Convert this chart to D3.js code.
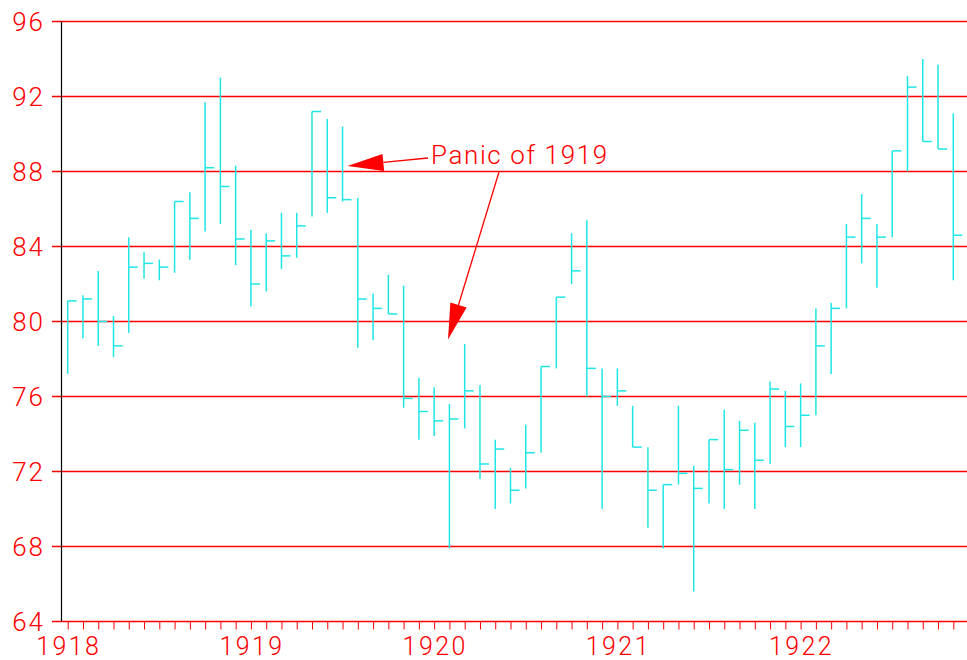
<!DOCTYPE html>
<html>
<head>
<meta charset="utf-8">
<script src="https://cdn.jsdelivr.net/npm/d3@7"></script>
<style>
  html, body { margin: 0; padding: 0; background: #fff; }
  svg { display: block; }
  text { font-family: Roboto, 'DejaVu Sans', sans-serif; font-weight: 300; fill: #f00; }
</style>
</head>
<body>
<div id="chart"></div>
<script>
// monthly bars, Jan 1918 .. Nov 1922
const years = [1918, 1919, 1920, 1921, 1922]
const yTicks = [64, 68, 72, 76, 80, 84, 88, 92, 96]
const highs = [
  81.1, 81.4, 82.7, 80.3, 84.5, 83.7, 83.3, 86.4, 86.9, 91.7, 93.0, 88.3,
  84.9, 84.7, 85.8, 85.8, 91.2, 90.8, 90.4, 86.6, 81.5, 82.5, 81.9, 77.0,
  76.5, 75.6, 78.8, 76.6, 73.7, 72.2, 74.5, 77.6, 81.3, 84.7, 85.4, 77.5,
  77.5, 75.5, 73.3, 71.3, 75.5, 72.3, 73.7, 75.3, 74.7, 74.6, 76.8, 76.3,
  76.7, 80.7, 81.0, 85.2, 86.8, 85.2, 89.1, 93.1, 94.0, 93.7, 91.1
]
const lows = [
  77.2, 79.1, 78.7, 78.1, 79.4, 82.3, 82.2, 82.6, 83.3, 84.8, 85.2, 83.0,
  80.8, 81.6, 82.8, 83.4, 85.6, 85.8, 86.4, 78.6, 79.0, 80.4, 75.4, 73.7,
  73.9, 67.9, 74.3, 71.6, 70.0, 70.3, 71.1, 73.0, 77.5, 82.0, 76.0, 70.0,
  75.5, 73.3, 69.0, 67.9, 71.3, 65.6, 70.3, 70.0, 71.3, 70.0, 72.4, 73.3,
  73.3, 75.0, 77.2, 80.7, 83.1, 81.8, 84.5, 88.0, 89.6, 89.2, 82.2
]
const closes = [
  81.1, 81.2, 80.0, 78.7, 82.9, 83.1, 82.9, 86.4, 85.5, 88.2, 87.2, 84.4,
  82.0, 84.3, 83.5, 85.1, 91.2, 86.6, 86.5, 81.2, 80.7, 80.4, 75.9, 75.2,
  74.7, 74.8, 76.3, 72.4, 73.2, 71.0, 73.0, 77.6, 81.3, 82.7, 77.5, 76.0,
  76.3, 73.3, 71.0, 71.3, 71.9, 71.1, 73.7, 72.1, 74.2, 72.6, 76.4, 74.4,
  75.0, 78.7, 80.7, 84.5, 85.5, 84.5, 89.1, 92.5, 89.6, 89.2, 84.6
]

const width = 967
const height = 660
const red = '#f00'
const cyan = '#1fe6e6'

const svg = d3.select('#chart').append('svg')
  .attr('width', width)
  .attr('height', height)

const x = d3.scaleLinear().domain([0, highs.length - 1]).range([67.7, 953.3])
const y = d3.scaleLinear().domain([64, 96]).range([621.5, 21.5])

// horizontal grid / y ticks
svg.append('g')
  .selectAll('line')
  .data(yTicks)
  .enter()
  .append('line')
  .attr('x1', 52)
  .attr('x2', width)
  .attr('y1', d => y(d))
  .attr('y2', d => y(d))
  .attr('stroke', red)
  .attr('stroke-width', 1.3)

svg.append('g')
  .selectAll('text')
  .data(yTicks)
  .enter()
  .append('text')
  .text(d => d)
  .attr('x', 45)
  .attr('y', d => y(d) + 9)
  .attr('text-anchor', 'end')
  .attr('style', 'font-size:26px;letter-spacing:2px;')

// x axis month ticks
const xAxis = d3.axisBottom(x)
  .tickValues(d3.range(highs.length))
  .tickSize(8)
  .tickFormat('')
const xAxisG = svg.append('g')
  .attr('transform', `translate(0,${y(64)})`)
  .call(xAxis)
xAxisG.select('.domain').remove()
xAxisG.selectAll('line').attr('stroke', red)

svg.append('g')
  .selectAll('text')
  .data(years)
  .enter()
  .append('text')
  .text(d => d)
  .attr('x', (d, i) => x(i * 12) + 1)
  .attr('y', 655)
  .attr('text-anchor', 'middle')
  .attr('style', 'font-size:25px;letter-spacing:2.4px;')

// left axis line
svg.append('line')
  .attr('x1', 61.5)
  .attr('x2', 61.5)
  .attr('y1', y(96))
  .attr('y2', y(64))
  .attr('stroke', '#000')
  .attr('stroke-width', 1.2)

// high-low-close bars
const bars = svg.append('g')
  .attr('stroke', cyan)
  .attr('stroke-width', 1.5)
const idx = d3.range(highs.length)
bars.selectAll('.hl')
  .data(idx)
  .enter()
  .append('line')
  .attr('class', 'hl')
  .attr('x1', i => x(i))
  .attr('x2', i => x(i))
  .attr('y1', i => y(highs[i]))
  .attr('y2', i => y(lows[i]))
bars.selectAll('.cl')
  .data(idx)
  .enter()
  .append('line')
  .attr('class', 'cl')
  .attr('x1', i => x(i))
  .attr('x2', i => x(i) + 9)
  .attr('y1', i => y(closes[i]))
  .attr('y2', i => y(closes[i]))

// annotation
svg.append('text')
  .text('Panic of 1919')
  .attr('x', 431)
  .attr('y', 164)
  .attr('style', 'font-size:26px;letter-spacing:1.6px;')

function arrow (x0, y0, x1, y1) {
  const ang = Math.atan2(y1 - y0, x1 - x0)
  const len = 36
  const half = 8.5
  const bx = x1 - len * Math.cos(ang)
  const by = y1 - len * Math.sin(ang)
  const nx = -Math.sin(ang)
  const ny = Math.cos(ang)
  svg.append('line')
    .attr('x1', x0).attr('y1', y0)
    .attr('x2', bx).attr('y2', by)
    .attr('stroke', red)
    .attr('stroke-width', 1.3)
  svg.append('path')
    .attr('d', `M${x1},${y1}L${bx + nx * half},${by + ny * half}L${bx - nx * half},${by - ny * half}Z`)
    .attr('fill', red)
}
arrow(428, 158, 347.5, 166)
arrow(499, 172, 448, 339.5)
</script>
</body>
</html>
